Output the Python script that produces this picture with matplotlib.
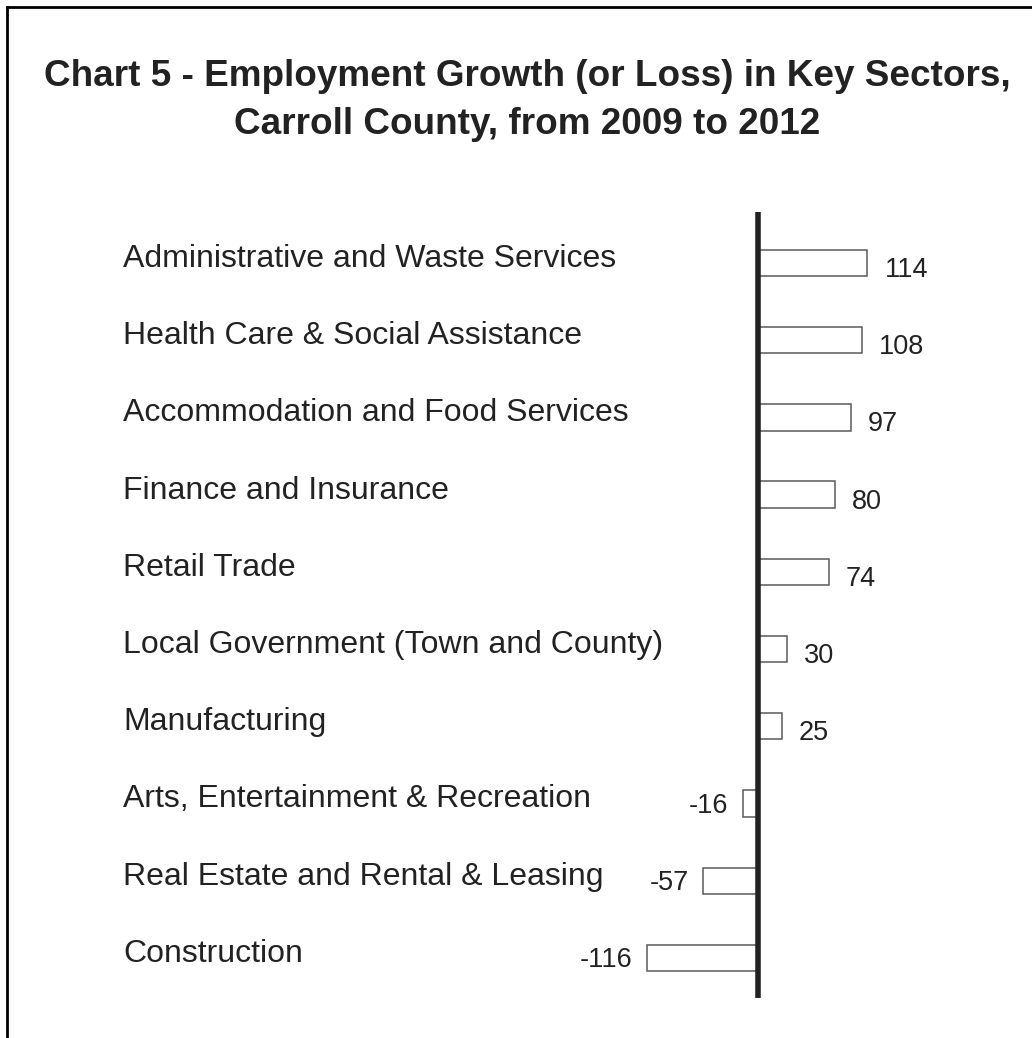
import matplotlib
matplotlib.use("Agg")
import matplotlib.pyplot as plt
from matplotlib.lines import Line2D
import matplotlib.transforms as mtransforms

plt.rcParams['font.family'] = ['Liberation Sans', 'DejaVu Sans']

# employment change 2009-2012, by sector
sectors = [
    "Administrative and Waste Services",
    "Health Care & Social Assistance",
    "Accommodation and Food Services",
    "Finance and Insurance",
    "Retail Trade",
    "Local Government (Town and County)",
    "Manufacturing",
    "Arts, Entertainment & Recreation",
    "Real Estate and Rental & Leasing",
    "Construction",
]
change = [114, 108, 97, 80, 74, 30, 25, -16, -57, -116]

W, H = 1032, 1038
fig = plt.figure(figsize=(W / 100, H / 100), dpi=100)

# axes placed in pixel units: x from 560 to 1000, y from 212 to 998
ax = fig.add_axes([560 / W, 1 - 998 / H, 440 / W, 786 / H])
scale = 0.96  # px per job
x0 = 758
ax.set_xlim(-(x0 - 560) / scale, (1000 - x0) / scale)
ax.set_ylim(9.52, -0.66)
ax.axis("off")

ypos = list(range(len(sectors)))
ax.barh(ypos, change, height=0.34, color="white", edgecolor="#5a5a5a", linewidth=1.1, zorder=2)
ax.axvline(0, color="#222222", lw=4, zorder=3)

def shift(dx, dy):
    # offset in pixels (dy positive = down)
    return mtransforms.ScaledTranslation(dx / 100, -dy / 100, fig.dpi_scale_trans)

txt = "#222222"
for y, name, v in zip(ypos, sectors, change):
    ax.text((123 - 560) / 440, y, name, transform=ax.get_yaxis_transform() + shift(0, 4),
            ha="left", va="baseline", fontsize=23, color=txt, clip_on=False)
    if v > 0:
        ax.text(v, y, str(v), transform=ax.transData + shift(17, 14), ha="left",
                va="baseline", fontsize=19.5, color=txt)
    else:
        ax.text(v, y, str(v), transform=ax.transData + shift(-14, 9.5), ha="right",
                va="baseline", fontsize=19.5, color=txt)

fig.text(527 / W, 1 - 86 / H, "Chart 5 - Employment Growth (or Loss) in Key Sectors,",
         ha="center", va="baseline", fontsize=26.6, fontweight="bold", color=txt)
fig.text(527 / W, 1 - 134 / H, "Carroll County, from 2009 to 2012",
         ha="center", va="baseline", fontsize=26.6, fontweight="bold", color=txt)

# frame lines along top and left edges
fig.add_artist(Line2D([6.5 / W, 1], [1 - 6.5 / H, 1 - 6.5 / H], color="black", lw=2))
fig.add_artist(Line2D([6.5 / W, 6.5 / W], [1 - 6.5 / H, 0], color="black", lw=2))

fig.savefig("out.png", dpi=100)
